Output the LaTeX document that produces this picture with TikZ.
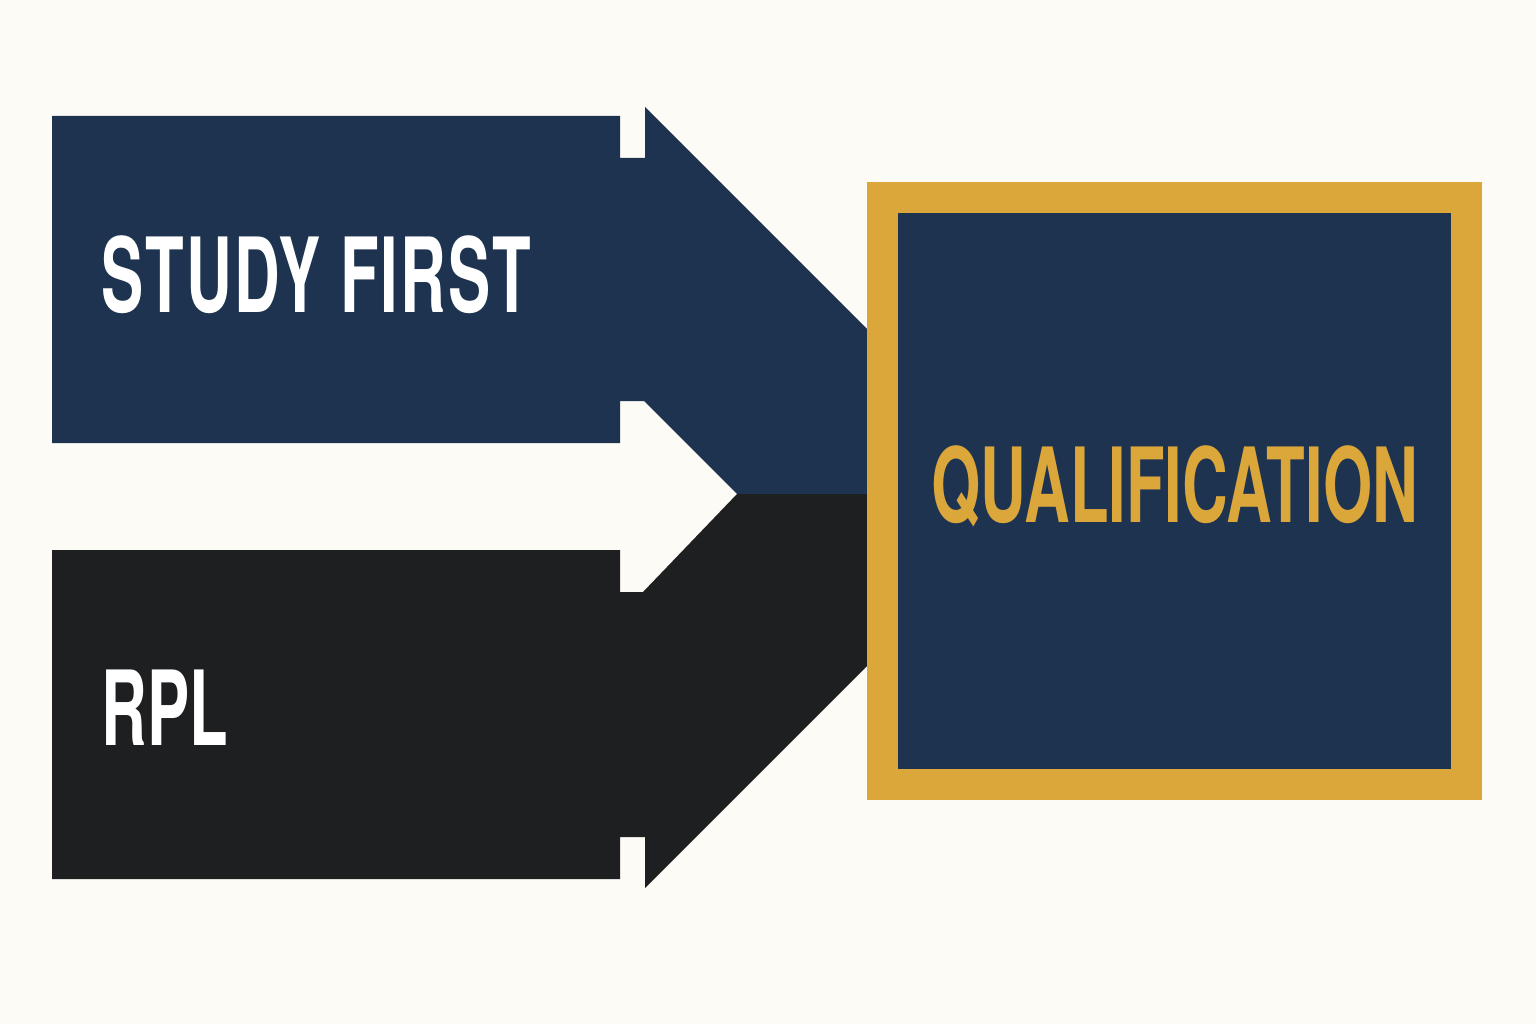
\documentclass[tikz,border=0pt]{standalone}
\usepackage{fontspec}
\newfontfamily\headfont{TeX Gyre Heros}[FakeStretch=0.61]
\newfontfamily\wideheadfont{TeX Gyre Heros}[FakeStretch=0.61,LetterSpace=2]
\definecolor{paper}{RGB}{253,251,245}
\definecolor{navy}{RGB}{30,51,79}
\definecolor{ink}{RGB}{30,31,33}
\definecolor{gold}{RGB}{219,167,59}
\tikzset{
	headtext/.style={inner sep=0pt,anchor=base west,font=\headfont\bfseries\fontsize{29.5pt}{30pt}\selectfont},
	goalbox/.style={draw=gold,line width=0.31cm,fill=navy,inner sep=0pt,outer sep=0pt,minimum width=5.84cm,minimum height=5.87cm}
}
\begin{document}
\begin{tikzpicture}
				\fill[paper] (0,0) rectangle (15.36,10.24);
				\useasboundingbox (0,0) rectangle (15.36,10.24);

				\fill[navy] (0.52,9.08) -- (6.20,9.08) -- (6.20,8.66) -- (6.45,8.66) -- (6.45,9.17) -- (8.80,6.82) -- (8.80,5.30) -- (7.37,5.30) -- (6.44,6.23) -- (6.20,6.23) -- (6.20,5.81) -- (0.52,5.81) -- cycle;
				\fill[ink] (0.52,4.74) -- (6.20,4.74) -- (6.20,4.32) -- (6.43,4.32) -- (7.37,5.30) -- (8.80,5.30) -- (8.80,3.71) -- (6.45,1.36) -- (6.45,1.87) -- (6.20,1.87) -- (6.20,1.45) -- (0.52,1.45) -- cycle;

				\node[goalbox] (qual) at (11.745,5.33) {};

				\node[headtext,text=white,font=\wideheadfont\bfseries\fontsize{29.5pt}{30pt}\selectfont] (study) at (1.01,7.11) {STUDY FIRST};
				\node[headtext,text=white] (rpl) at (1.01,2.79) {RPL};
				\node[headtext,text=gold] (qualname) at (9.31,5.02) {QUALIFICATION};
\end{tikzpicture}
\end{document}
